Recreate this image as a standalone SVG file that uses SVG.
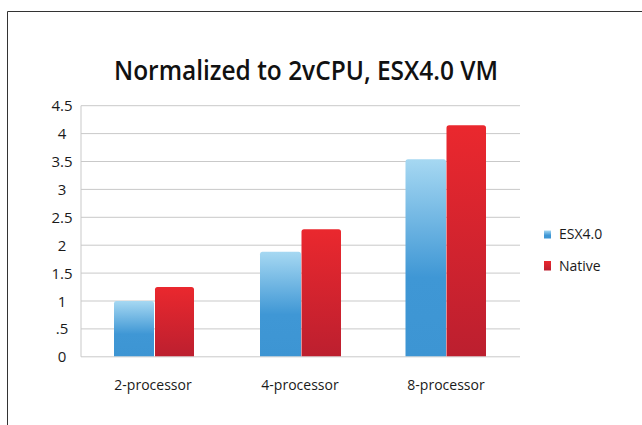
<svg xmlns="http://www.w3.org/2000/svg" width="642" height="425" viewBox="0 0 642 425">
<style>
.grid{stroke:#c9c9c9;stroke-width:1;fill:none}
.ylab{font-family:"Open Sans","Liberation Sans",sans-serif;font-size:15px;fill:#1a1a1a;text-anchor:middle}
.xlab{font-family:"Open Sans","Liberation Sans",sans-serif;font-size:14px;fill:#1a1a1a;text-anchor:middle}
.leg{font-family:"Open Sans","Liberation Sans",sans-serif;font-size:14px;fill:#1a1a1a}
.title{font-family:"Open Sans","Liberation Sans",sans-serif;font-size:27px;font-weight:600;fill:#111}
.esx{fill:url(#gBlue)}
.nat{fill:url(#gRed)}
</style>
<defs>
<linearGradient id="gBlue" x1="0" y1="0" x2="0" y2="1">
<stop offset="0" stop-color="#a6d8f2"/>
<stop offset="0.6" stop-color="#3f97d5"/>
<stop offset="1" stop-color="#3d95d3"/>
</linearGradient>
<linearGradient id="gRed" x1="0" y1="0" x2="0" y2="1">
<stop offset="0" stop-color="#ea282e"/>
<stop offset="1" stop-color="#bc1f2f"/>
</linearGradient>
</defs>
<rect width="642" height="425" fill="#fff"/>
<path d="M7.5 425 V11.5 H642" stroke="#333" stroke-width="1" fill="none"/>
<text class="title" x="114" y="79.5" textLength="384" lengthAdjust="spacingAndGlyphs">Normalized to 2vCPU, ESX4.0 VM</text>
<g id="grid">
<path class="grid" d="M81 105.7H520M81 133.6H520M81 161.5H520M81 189.4H520M81 217.3H520M81 245.2H520M81 273.1H520M81 301H520M81 328.9H520M81 356.8H520M81 105.7V356.8"/>
</g>
<g id="yaxis">
<text class="ylab" x="62" y="111">4.5</text>
<text class="ylab" x="62" y="139">4</text>
<text class="ylab" x="62" y="167">3.5</text>
<text class="ylab" x="62" y="195">3</text>
<text class="ylab" x="62" y="223">2.5</text>
<text class="ylab" x="62" y="250.5">2</text>
<text class="ylab" x="62" y="278.5">1.5</text>
<text class="ylab" x="62" y="306.5">1</text>
<text class="ylab" x="62" y="334">.5</text>
<text class="ylab" x="62" y="362">0</text>
</g>
<g id="bars-2proc">
<path class="esx" d="M114 356.3V303.4Q114 301 116.4 301H151.6Q154 301 154 303.4V356.3Z"/>
<path class="nat" d="M155 356.3V289.6Q155 287 157.6 287H191.4Q194 287 194 289.6V356.3Z"/>
</g>
<g id="bars-4proc">
<path class="esx" d="M260 356.3V254.3Q260 251.8 262.5 251.8H298.5Q301 251.8 301 254.3V356.3Z"/>
<path class="nat" d="M301.5 356.3V231.8Q301.5 229.2 304 229.2H338.5Q341 229.2 341 231.8V356.3Z"/>
</g>
<g id="bars-8proc">
<path class="esx" d="M405.5 356.3V161.8Q405.5 159.3 408 159.3H443.5Q446 159.3 446 161.8V356.3Z"/>
<path class="nat" d="M446.5 356.3V128Q446.5 125.3 449.2 125.3H483.3Q486 125.3 486 128V356.3Z"/>
</g>
<g id="xaxis">
<text class="xlab" x="153" y="390">2-processor</text>
<text class="xlab" x="300" y="390">4-processor</text>
<text class="xlab" x="446" y="390">8-processor</text>
</g>
<g id="legend">
<rect x="544" y="230.5" width="7" height="8" class="esx"/>
<text class="leg" x="559" y="239">ESX4.0</text>
<rect x="544" y="261" width="7" height="9.5" class="nat"/>
<text class="leg" x="559" y="271">Native</text>
</g>
</svg>
